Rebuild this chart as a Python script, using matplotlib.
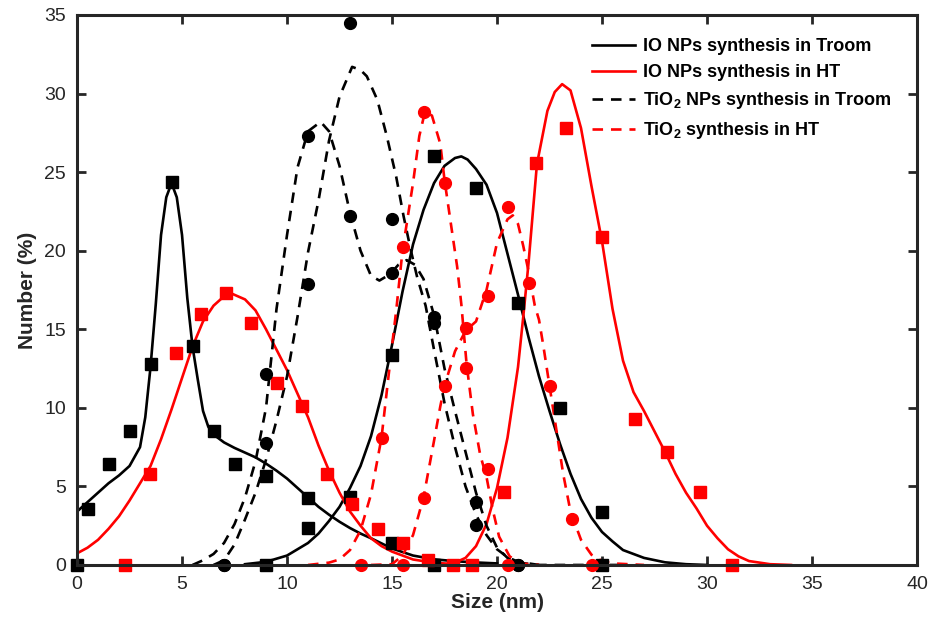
import matplotlib
matplotlib.use("Agg")
import matplotlib.pyplot as plt

plt.rcParams['font.family'] = ['Liberation Sans', 'DejaVu Sans']
plt.rcParams['mathtext.fontset'] = 'custom'
plt.rcParams['mathtext.rm'] = 'Liberation Sans:bold'
plt.rcParams['mathtext.bf'] = 'Liberation Sans:bold'

# ---- measured points ----
# IO NPs, room temperature (black squares)
io_rt_x = [0, 0.5, 1.5, 2.5, 3.5, 4.5, 5.5, 6.5, 7.5, 9, 11, 13, 15, 17, 25]
io_rt_y = [0, 3.56, 6.4, 8.5, 12.77, 24.4, 13.94, 8.53, 6.4, 5.66, 4.28, 4.35, 1.42, 0, 0]
io_rt2_x = [9, 11, 15, 17, 19, 21, 23, 25]
io_rt2_y = [0, 2.33, 13.36, 26.0, 24.0, 16.65, 10.0, 3.35]

# IO NPs, HT (red squares)
io_ht_x = [2.29, 3.48, 4.7, 5.89, 7.1, 8.29, 9.51, 10.7, 11.89, 13.11, 14.32, 15.5, 16.73, 17.9,
           18.8, 20.33, 21.86, 23.3, 24.98, 26.57, 28.1, 29.67, 31.2]
io_ht_y = [0, 5.77, 13.5, 16.0, 17.3, 15.42, 11.56, 10.14, 5.77, 3.86, 2.27, 1.42, 0.3, 0,
           0, 4.67, 25.56, 27.8, 20.9, 9.27, 7.21, 4.67, 0]

# TiO2 NPs, room temperature (black circles)
tio_rt_x = [7, 9, 11, 13, 15, 17, 19, 21]
tio_rt_a = [0, 12.15, 27.3, 22.2, 18.6, 15.8, 4.0, 0]
tio_rt_b = [0, 7.75, 17.9, 34.5, 22.0, 15.4, 2.55, 0]

# TiO2, HT (red circles)
tio_ht_x1 = [13.52, 14.51, 15.5, 16.5, 17.52, 18.52, 19.56, 20.54]
tio_ht_y1 = [0, 8.1, 20.26, 28.85, 24.3, 12.56, 6.09, 0]
tio_ht_x2 = [15.5, 16.52, 17.52, 18.52, 19.56, 20.5, 21.54, 22.52, 23.56, 24.54]
tio_ht_y2 = [0, 4.28, 11.39, 15.1, 17.1, 22.8, 17.97, 11.39, 2.9, 0]

# ---- fitted curves ----
fit_io_rt1_x = [0, 0.5, 1, 1.5, 2, 2.5, 3, 3.25, 3.5, 3.75, 4, 4.25, 4.5, 4.75, 5, 5.25, 5.5,
                5.75, 6, 6.25, 6.5, 7, 7.5, 8, 8.5, 9, 9.5, 10, 10.5, 11, 11.5, 12, 12.5, 13,
                13.5, 14, 15, 16, 17, 18, 19, 20]
fit_io_rt1_y = [3.4, 4.0, 4.6, 5.2, 5.7, 6.3, 7.5, 9.4, 12.6, 16.6, 21.0, 23.4, 24.3, 23.4,
                21.0, 17.0, 13.9, 11.8, 9.8, 8.8, 8.3, 7.8, 7.45, 7.15, 6.85, 6.45, 6.0, 5.5,
                4.9, 4.3, 3.7, 3.2, 2.75, 2.35, 2.0, 1.7, 1.05, 0.6, 0.36, 0.24, 0.16, 0.1]

fit_io_rt2_x = [8, 9, 10, 11, 11.5, 12, 12.5, 13, 13.5, 14, 14.5, 15, 15.5, 16, 16.5, 17, 17.5,
                18, 18.3, 18.6, 19, 19.5, 20, 20.5, 21, 21.5, 22, 22.5, 23, 23.5, 24, 24.5, 25,
                25.5, 26, 27, 28, 29, 30]
fit_io_rt2_y = [0.05, 0.2, 0.6, 1.4, 2.0, 2.8, 3.7, 4.9, 6.3, 8.2, 10.8, 14.0, 17.4, 20.4, 22.6,
                24.3, 25.4, 25.9, 26.0, 25.8, 25.2, 24.2, 22.4, 19.8, 17.2, 14.5, 12.0, 9.8, 7.7,
                5.8, 4.2, 3.0, 2.1, 1.5, 0.95, 0.45, 0.17, 0.05, 0]

fit_io_ht_x = [0, 0.5, 1, 1.5, 2, 2.5, 3, 3.5, 4, 4.5, 5, 5.5, 6, 6.5, 7, 7.4, 8, 8.5, 9, 9.5,
               10, 10.5, 11, 11.5, 12, 12.5, 13, 13.5, 14, 14.5, 15, 16, 17, 17.6, 18, 18.5,
               19, 19.5, 20, 20.5, 21, 21.25, 21.5, 21.9, 22.4, 22.75, 23.1, 23.5, 24, 24.5,
               25, 25.5, 26, 26.5, 27, 27.5, 28, 28.5, 29, 29.5, 30, 30.5, 31, 31.5, 32, 33, 34]
fit_io_ht_y = [0.74, 1.1, 1.6, 2.3, 3.1, 4.1, 5.2, 6.3, 8.0, 9.9, 11.9, 13.9, 15.5, 16.5, 17.1,
               17.25, 16.9, 16.2, 15.0, 13.7, 12.4, 10.9, 9.4, 7.6, 6.0, 4.6, 3.4, 2.5, 1.7,
               1.2, 0.85, 0.35, 0.14, 0.09, 0.15, 0.45, 1.2, 2.6, 4.9, 8.1, 12.6, 15.8, 19.2,
               25.5, 28.9, 30.1, 30.6, 30.2, 27.8, 24.1, 20.6, 16.3, 13.0, 11.0, 9.8, 8.5, 7.2,
               5.8, 4.6, 3.6, 2.5, 1.7, 1.0, 0.55, 0.25, 0.05, 0]

fit_tio_rt_a_x = [5.5, 6, 6.5, 7, 7.5, 8, 8.5, 9, 9.5, 10, 10.5, 11, 11.6, 12, 12.5, 13, 13.5,
                  14, 14.4, 14.9, 15.3, 15.7, 16.1, 16.5, 17, 17.5, 18, 18.5, 19, 19.5, 20,
                  20.5, 21, 22, 26]
fit_tio_rt_a_y = [0, 0.3, 0.7, 1.4, 2.6, 4.3, 6.6, 10.0, 16.3, 21.0, 25.3, 27.6, 28.2, 27.6,
                  25.4, 22.4, 20.0, 18.4, 18.1, 18.5, 19.1, 19.4, 19.1, 18.2, 15.9, 12.5, 9.8,
                  7.2, 4.6, 2.5, 1.1, 0.45, 0.15, 0, 0]
fit_tio_rt_b_x = [6.5, 7, 7.5, 8, 8.5, 9, 9.5, 10, 10.5, 11, 11.5, 12, 12.5, 13.1, 13.5, 13.8,
                  14.3, 14.75, 15.2, 15.55, 15.9, 16.2, 16.6, 17, 17.5, 18, 18.5, 19, 19.5, 20,
                  20.5, 21, 22]
fit_tio_rt_b_y = [0, 0.3, 1.3, 2.9, 4.6, 6.7, 9.2, 12.0, 15.8, 19.9, 23.2, 27.0, 29.8, 31.7,
                  31.5, 31.1, 29.6, 27.3, 24.7, 22.2, 20.0, 18.3, 16.5, 13.7, 10.3, 7.5, 5.0,
                  3.2, 1.9, 1.0, 0.5, 0.2, 0]

fit_tio_ht_c_x = [11, 12, 12.5, 13, 13.5, 14, 14.5, 14.9, 15.2, 15.5, 16, 16.3, 16.57, 16.9,
                  17.3, 17.5, 17.75, 18.1, 18.3, 18.55, 18.85, 19.2, 19.5, 19.8, 20.1, 20.6,
                  21.1, 22]
fit_tio_ht_c_y = [0, 0.15, 0.35, 0.95, 2.2, 4.5, 8.1, 12.8, 16.2, 20.0, 24.3, 27.3, 28.85, 28.6,
                  26.8, 24.5, 22.2, 19.0, 16.6, 12.8, 9.6, 7.0, 5.6, 3.5, 1.8, 0.55, 0.1, 0]
fit_tio_ht_d_x = [14, 15, 15.5, 16, 16.5, 17, 17.3, 17.5, 18, 18.5, 19, 19.5, 20, 20.5, 20.75,
                  21, 21.25, 21.5, 21.8, 22, 22.2, 22.5, 22.85, 23.15, 23.5, 24, 24.5, 25,
                  25.5, 27]
fit_tio_ht_d_y = [0, 0.05, 0.6, 1.9, 4.3, 7.9, 10.1, 11.4, 13.6, 14.9, 15.5, 17.5, 20.5, 22.0,
                  22.25, 21.7, 20.3, 18.7, 16.5, 15.6, 14.0, 11.4, 8.4, 5.8, 3.4, 1.6, 0.65,
                  0.25, 0.1, 0]

legend_labels = ['IO NPs synthesis in Troom', 'IO NPs synthesis in HT',
                 r'TiO$_\mathbf{2}$ NPs synthesis in Troom', r'TiO$_\mathbf{2}$ synthesis in HT']

fig = plt.figure(figsize=(9.36, 6.41), dpi=100)
ax = fig.add_axes([0.0823, 0.1186, 0.8974, 0.858])

lw = 1.9
dash = (4, 3)
ax.plot(fit_io_rt1_x, fit_io_rt1_y, color='black', lw=lw, label=legend_labels[0])
ax.plot(fit_io_rt2_x, fit_io_rt2_y, color='black', lw=lw)
ax.plot(fit_io_ht_x, fit_io_ht_y, color='red', lw=lw, label=legend_labels[1])
ax.plot(fit_tio_rt_a_x, fit_tio_rt_a_y, color='black', lw=lw, dashes=dash, label=legend_labels[2])
ax.plot(fit_tio_rt_b_x, fit_tio_rt_b_y, color='black', lw=lw, dashes=dash)
ax.plot(fit_tio_ht_c_x, fit_tio_ht_c_y, color='red', lw=lw, dashes=dash, label=legend_labels[3])
ax.plot(fit_tio_ht_d_x, fit_tio_ht_d_y, color='red', lw=lw, dashes=dash)

ms = 8
ax.plot(io_rt_x, io_rt_y, 's', color='black', ms=ms, clip_on=False)
ax.plot(io_rt2_x, io_rt2_y, 's', color='black', ms=ms, clip_on=False)
ax.plot(io_ht_x, io_ht_y, 's', color='red', ms=ms, clip_on=False)
ax.plot(tio_rt_x, tio_rt_a, 'o', color='black', ms=ms + 0.5, clip_on=False)
ax.plot(tio_rt_x, tio_rt_b, 'o', color='black', ms=ms + 0.5, clip_on=False)
ax.plot(tio_ht_x1, tio_ht_y1, 'o', color='red', ms=ms + 0.5, clip_on=False)
ax.plot(tio_ht_x2, tio_ht_y2, 'o', color='red', ms=ms + 0.5, clip_on=False)

ax.set_xlim(0, 40)
ax.set_ylim(0, 35)
ax.set_xticks(range(0, 41, 5))
ax.set_yticks(range(0, 36, 5))

dark = '#262626'
for sp in ax.spines.values():
    sp.set_linewidth(2.2)
    sp.set_color(dark)
ax.tick_params(direction='in', top=True, right=True, length=6.5, width=2, color=dark,
               labelsize=14, labelcolor=dark, pad=8)

ax.set_xlabel('Size (nm)', fontsize=15, fontweight='bold', color=dark, labelpad=0)
ax.set_ylabel('Number (%)', fontsize=15, fontweight='bold', color=dark, labelpad=5)

ax.legend(loc='upper left', bbox_to_anchor=(0.613, 0.958), frameon=False,
          prop={'weight': 'bold', 'size': 13}, handlelength=2.4, handletextpad=0.45,
          borderpad=0, borderaxespad=0, labelspacing=0.5)

fig.savefig('out.png', dpi=100)
